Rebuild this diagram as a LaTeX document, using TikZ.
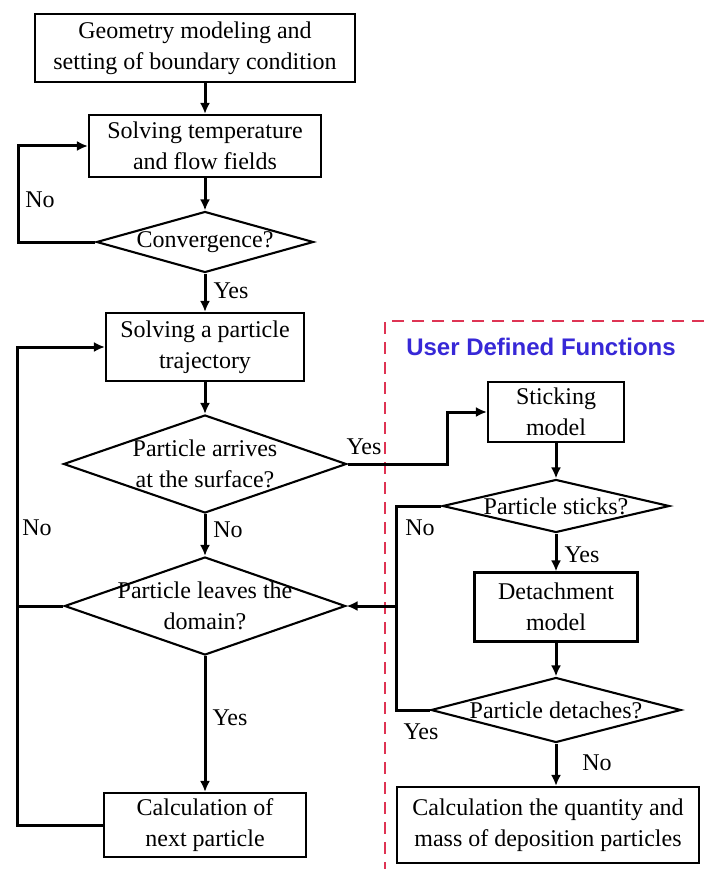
\documentclass[tikz,border=0pt]{standalone}
\usepackage{fontspec}
\setmainfont{Liberation Serif}
\newfontfamily\udffont{Liberation Sans}
\usetikzlibrary{shapes.geometric,arrows.meta}
\definecolor{udfred}{RGB}{222,52,84}
\definecolor{udfblue}{RGB}{55,40,215}
\begin{document}
\begin{tikzpicture}[x=1pt,y=-1pt,
  box/.style={draw,line width=2.1pt,rectangle,inner sep=0pt,align=center,font=\fontsize{24}{31}\selectfont},
  dia/.style={draw,line width=2.1pt,diamond,inner sep=0pt},
  dtext/.style={inner sep=0pt,align=center,font=\fontsize{24}{31}\selectfont},
  lab/.style={inner sep=0pt,font=\fontsize{24}{31}\selectfont},
  conn/.style={line width=3pt},
  arr/.style={conn,-{Latex[length=11pt,width=10pt]}}
]
\useasboundingbox[fill=white] (0,0) rectangle (704,869);
% dashed user-defined-functions frame
\draw[udfred, line width=2.6pt, dash pattern=on 12pt off 8pt] (704,321) -- (385,321) -- (385,869);
\node[font=\udffont\bfseries\fontsize{24}{28}\selectfont, text=udfblue, inner sep=0pt] (udf) at (541,347) {User Defined Functions};

\coordinate (LL) at (17,0);
\coordinate (RL) at (396,0);

% main column
\node[box,minimum width=320pt,minimum height=68pt] (b1) at (195,48) {Geometry modeling and\\setting of boundary condition};
\node[box,minimum width=232pt,minimum height=62pt] (b2) at (205,146) {Solving temperature\\and flow fields};
\node[dia,minimum width=217pt,minimum height=61pt] (d1) at (205,242) {};
\node[dtext] (d1t) at (d1.center) {Convergence?};
\node[box,minimum width=198pt,minimum height=68pt] (b3) at (205,347) {Solving a particle\\trajectory};
\node[dia,minimum width=283pt,minimum height=98pt] (d2) at (205,464) {};
\node[dtext] (d2t) at (d2.center) {Particle arrives\\at the surface?};
\node[dia,minimum width=281pt,minimum height=98pt] (d3) at (205,606) {};
\node[dtext] (d3t) at (d3.center) {Particle leaves the\\domain?};
\node[box,minimum width=202pt,minimum height=64pt] (b4) at (205,825) {Calculation of\\next particle};

% right column
\node[box,minimum width=136pt,minimum height=60pt] (s) at (556,412) {Sticking\\model};
\node[dia,minimum width=227pt,minimum height=53pt] (d4) at (556,506) {};
\node[dtext] (d4t) at (d4.center) {Particle sticks?};
\node[box,minimum width=163pt,minimum height=69pt] (dm) at (556,607) {Detachment\\model};
\node[dia,minimum width=250pt,minimum height=65pt] (d5) at (556,710) {};
\node[dtext] (d5t) at (d5.center) {Particle detaches?};
\node[box,minimum width=302pt,minimum height=76pt] (fin) at (548,825) {Calculation the quantity and\\mass of deposition particles};

% connectors main
\draw[arr] (b1.south -| b2.north) -- (b2.north);
\draw[arr] (b2.south) -- (d1.north);
\draw[arr] (d1.west) -- ++(-77,0) |- (b2.west);
\draw[arr] (d1.south) -- (b3.north);
\draw[arr] (b3.south) -- (d2.north);
\draw[arr] (d2.south) -- (d3.north);
\draw[arr] (d3.south) -- (b4.north);
\draw[arr] (b4.west) -- (b4.west -| LL) |- (b3.west);
\draw[conn] (d3.west) -- (d3.west -| LL);

% connectors right
\draw[arr] (d2.east) -- ++(100,0) |- (s.west);
\draw[arr] (s.south) -- (d4.north);
\draw[arr] (d4.south) -- (dm.north);
\draw[arr] (dm.south) -- (d5.north);
\draw[arr] (d5.south) -- (d5.south |- fin.north);
\draw[conn] (d4.west) -- (d4.west -| RL) -- (d5.west -| RL) -- (d5.west);
\draw[arr] (d3.east -| RL) -- (d3.east);

% labels
\node[lab] (l1) at (40,200) {No};
\node[lab] (l2) at (231,291) {Yes};
\node[lab] (l3) at (364,447) {Yes};
\node[lab] (l4) at (37,528) {No};
\node[lab] (l5) at (228,530) {No};
\node[lab] (l6) at (230,718) {Yes};
\node[lab] (l7) at (420,528) {No};
\node[lab] (l8) at (582,555) {Yes};
\node[lab] (l9) at (421,732) {Yes};
\node[lab] (l10) at (597,763) {No};
\end{tikzpicture}
\end{document}
